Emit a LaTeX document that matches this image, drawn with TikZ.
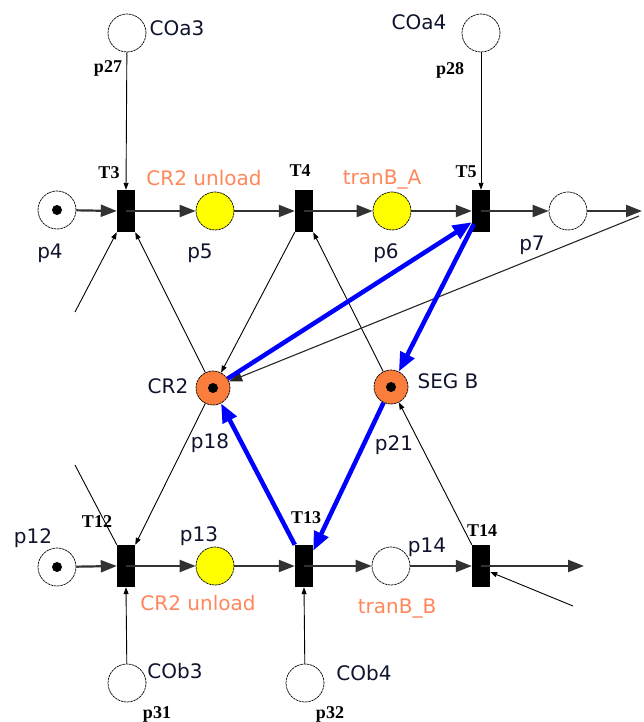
\documentclass[tikz,border=0pt]{standalone}
\usepackage{fontspec}
\usepackage{tikz}
\usetikzlibrary{arrows.meta,positioning,calc}
\newfontfamily\labelfont{DejaVu Sans}
\newfontfamily\tnamefont{Liberation Serif}
\definecolor{cYellow}{RGB}{255,255,0}
\definecolor{cOrange}{RGB}{250,125,60}
\definecolor{cLabel}{RGB}{255,135,90}
\definecolor{cText}{RGB}{15,20,45}
\definecolor{cArc}{RGB}{50,50,50}
\tikzset{
  place/.style={circle,draw=black,line width=0.7pt,
                dash pattern=on 2.5pt off 0.7pt,fill=white,
                minimum size=38pt,inner sep=0pt},
  yplace/.style={place,fill=cYellow},
  oplace/.style={place,fill=cOrange,minimum size=34pt},
  trans/.style={rectangle,fill=black,minimum width=18pt,
                minimum height=42pt,inner sep=0pt},
  token/.style={circle,fill=black,minimum size=10pt,inner sep=0pt},
  plabel/.style={font=\labelfont\fontsize{20}{22}\selectfont,
                 text=cText,inner sep=0pt},
  olabel/.style={font=\labelfont\fontsize{20}{22}\selectfont,
                 text=cLabel,inner sep=0pt},
  tlabel/.style={font=\tnamefont\bfseries\fontsize{18}{18}\selectfont,
                 inner sep=0pt},
  arr/.style={-{Triangle[length=16pt,width=12pt]},line width=2.2pt,color=cArc},
  thnarr/.style={-{Triangle[length=7pt,width=5pt]},line width=0.9pt,color=black},
  midarr/.style={-{Triangle[length=13pt,width=10pt]},line width=1.1pt,color=black!85},
  bluarr/.style={-{Triangle[length=19pt,width=15pt]},line width=4.5pt,color=blue}
}

\begin{document}
\begin{tikzpicture}[x=1pt,y=-1pt]
  \useasboundingbox (0,0) rectangle (643,722);

  % Upper row
  \node[place] (p4) at (57,210) {};
  \node[token] at (p4) {};
  \node[trans] (T3) at (126,211) {};
  \node[yplace] (p5) at (215,211) {};
  \node[trans] (T4) at (304,211) {};
  \node[yplace] (p6) at (392,211) {};
  \node[trans] (T5) at (481,211) {};
  \node[place] (p7) at (568,211) {};
  \coordinate (outA) at (642,211);
  \coordinate (inA) at (639,216);

  % Resources
  \node[place] (p27) at (127,33) {};
  \node[place] (p28) at (481,33) {};
  \node[oplace] (p18) at (213,388) {};
  \node[token] at (p18) {};
  \node[oplace] (p21) at (391,387) {};
  \node[token] at (p21) {};

  % Lower row
  \node[place] (p12) at (57,567) {};
  \node[token] at (p12) {};
  \node[trans] (T12) at (126,566) {};
  \node[yplace] (p13) at (215,566) {};
  \node[trans] (T13) at (304,566) {};
  \node[place] (p14) at (391,566) {};
  \node[trans] (T14) at (481,566) {};
  \node[place] (p31) at (127,683) {};
  \node[place] (p32) at (305,683) {};
  \coordinate (outB) at (584,566);
  \coordinate (inB) at (573,606);
  \coordinate (inC) at (75,312);
  \coordinate (inD) at (75,465);

  % Labels
  \node[plabel] (lCOa3) at (177,28) {COa3};
  \node[tlabel] (l27) at (108,68) {p27};
  \node[tlabel] (lT3) at (109,173) {T3};
  \node[olabel] (lun1) at (204,178) {CR2 unload};
  \node[plabel] (l4) at (50,253) {p4};
  \node[plabel] (l5) at (200,253) {p5};
  \node[tlabel] (lT4) at (300,171) {T4};
  \node[olabel] (ltrA) at (382,180) {tranB\_A};
  \node[plabel] (l6) at (386,253) {p6};
  \node[tlabel] (lT5) at (466,172) {T5};
  \node[plabel] (lCOa4) at (419,22) {COa4};
  \node[tlabel] (l28) at (450,70) {p28};
  \node[plabel] (l7) at (532,245) {p7};
  \node[plabel] (lCR2) at (168,386) {CR2};
  \node[plabel] (l18) at (210,443) {p18};
  \node[plabel] (lSEG) at (448,381) {SEG B};
  \node[plabel] (l21) at (394,445) {p21};
  \node[plabel] (l12) at (33,538) {p12};
  \node[tlabel] (lT12) at (97,522) {T12};
  \node[plabel] (l13) at (199,536) {p13};
  \node[olabel] (lun2) at (198,603) {CR2 unload};
  \node[tlabel] (lT13) at (306,518) {T13};
  \node[plabel] (l14) at (427,547) {p14};
  \node[olabel] (ltrB) at (397,609) {tranB\_B};
  \node[tlabel] (lT14) at (482,531) {T14};
  \node[plabel] (lCOb3) at (175,671) {COb3};
  \node[tlabel] (l31) at (157,714) {p31};
  \node[plabel] (lCOb4) at (364,673) {COb4};
  \node[tlabel] (l32) at (330,714) {p32};

  % Horizontal arcs
  \draw[arr] (p4) -- (T3.west);
  \draw[arr] (T3.center) -- (p5);
  \draw[arr] (p5) -- (T4.west);
  \draw[arr] (T4.center) -- (p6);
  \draw[arr] (p6) -- (T5.west);
  \draw[arr] (T5.center) -- (p7);
  \draw[arr] (p7) -- (outA);
  \draw[arr] (p12) -- (T12.west);
  \draw[arr] (T12.center) -- (p13);
  \draw[arr] (p13) -- (T13.west);
  \draw[arr] (T13.center) -- (p14);
  \draw[arr] (p14) -- (T14.west);
  \draw[arr] (T14.center) -- (outB);

  % Resource arcs
  \draw[thnarr] (p27) -- (T3.north);
  \draw[thnarr] (p28) -- (T5.north);
  \draw[thnarr] (p31) -- (T12.south);
  \draw[thnarr] (p32) -- (T13.south);
  \draw[thnarr] (inC) -- (T3.south west);
  \draw[thnarr] (p18) -- (T3.south east);
  \draw[thnarr] (T4.south west) -- (p18);
  \draw[thnarr] (p21) -- (T4.south east);
  \draw[line width=0.9pt] (inD) -- (T12.north west);
  \draw[thnarr] (p18) -- (T12.north east);
  \draw[thnarr] (T14.north west) -- (p21);
  \draw[thnarr] (inB) -- ($(T14.east)+(0,6)$);
  \draw[midarr] (inA) -- (p18);

  % Blue arcs
  \draw[bluarr] (p18) -- ($(T5.south west)+(0,-10)$);
  \draw[bluarr] ($(T5.south west)+(2,-8)$) -- (p21);
  \draw[bluarr] (p21) -- ($(T13.north east)+(0,6)$);
  \draw[bluarr] (T13.north west) -- (p18);

\end{tikzpicture}
\end{document}
